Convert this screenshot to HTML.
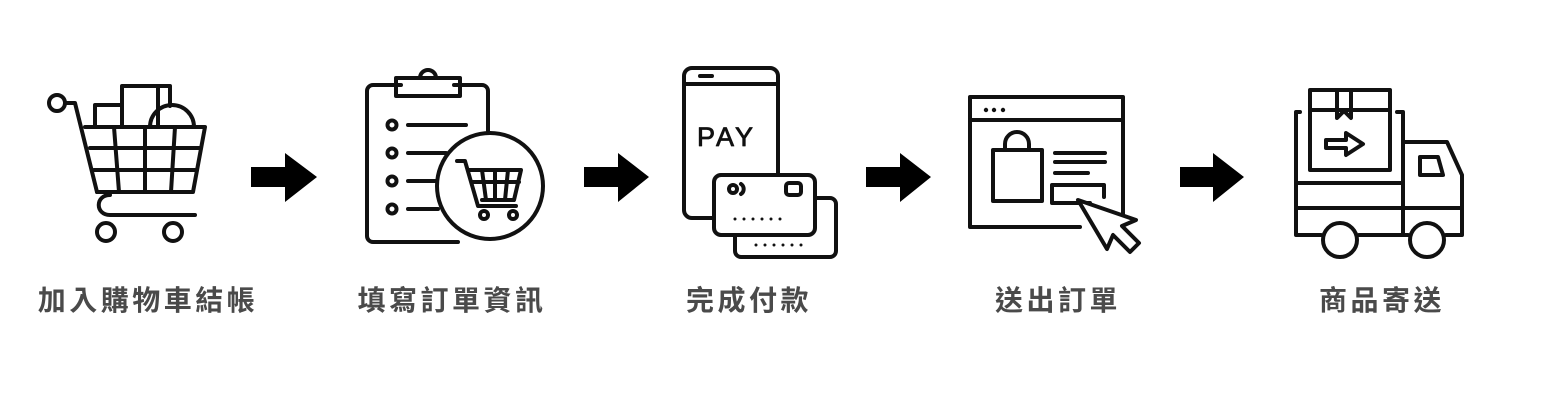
<!DOCTYPE html>
<html><head><meta charset="utf-8"><style>
html,body{margin:0;padding:0;background:#fff;width:1552px;height:406px;overflow:hidden}
svg{position:absolute;left:0;top:0}
.l{position:absolute;top:279px;font:bold 28px "Liberation Sans","Noto Sans CJK TC",sans-serif;color:#4a4a4a;letter-spacing:3.5px;white-space:nowrap;transform:translateX(-50%)}
</style></head><body>
<svg width="1552" height="406" viewBox="0 0 1552 406" fill="none" stroke="#111" stroke-width="4" stroke-linejoin="round" stroke-linecap="round">
<g fill="#000" stroke="none">
<path d="M251 167h34v-14l32 24-32 25v-15h-34z"/>
<path d="M584 167h34v-14l31 24-31 25v-15h-34z"/>
<path d="M866 167h34v-14l31 24-31 25v-15h-34z"/>
<path d="M1180 167h33v-14l31 24-31 25v-15h-33z"/>
</g>
<circle cx="57" cy="103" r="8"/>
<path d="M65 103h10l22 89"/>
<path d="M85 127h120l-12 65H97"/>
<path d="M90 148h111M94 170h103M114 127l5 65M145 127v65M175 127l-4 65"/>
<path d="M110 195c-15 0-15 20 0 20h85"/>
<circle cx="106" cy="232" r="9"/><circle cx="173" cy="232" r="9"/>
<path d="M95 127v-22h27M122 127V86h36v41M158 86h12v20M150 127a22 22 0 0 1 44 0"/>
<path d="M454 85h28a6 6 0 0 1 6 6v40M458 242H373a6 6 0 0 1-6-6V91a6 6 0 0 1 6-6h28"/>
<path d="M396 78h64v18h-64zM420 78a8 8 0 0 1 16 0"/>
<circle cx="392" cy="125" r="4.5"/><circle cx="392" cy="153" r="4.5"/><circle cx="392" cy="181" r="4.5"/><circle cx="392" cy="209" r="4.5"/>
<path d="M408 125h58M408 153h38M408 181h28M408 209h30"/>
<circle cx="490" cy="186" r="53"/>
<path d="M457 161h8l13 45h38M469 170h52l-7 30h-32M473 182h46M482 170l4 30M495 170v30M508 170l-3 30"/>
<circle cx="484" cy="215" r="4"/><circle cx="513" cy="215" r="4"/>
<path d="M714 218h-22a8 8 0 0 1-8-8V76a8 8 0 0 1 8-8h78a8 8 0 0 1 8 8v99"/>
<path d="M700 76h12M686 84h90"/>
<text x="697" y="146" font-family="Liberation Sans,sans-serif" font-size="27" fill="#111" stroke="#111" stroke-width="0.8" letter-spacing="3">PAY</text>
<path d="M815 198h15a6 6 0 0 1 6 6v47a6 6 0 0 1-6 6h-89a6 6 0 0 1-6-6v-16"/>
<rect x="714" y="175" width="101" height="60" rx="7"/>
<circle cx="733" cy="189" r="4"/><path d="M741 184a6 6 0 0 1 0 10"/>
<rect x="786" y="183" width="15" height="12" rx="3"/>
<g fill="#111" stroke="none"><circle cx="735" cy="219" r="1.5"/><circle cx="744" cy="219" r="1.5"/><circle cx="753" cy="219" r="1.5"/><circle cx="762" cy="219" r="1.5"/><circle cx="771" cy="219" r="1.5"/><circle cx="780" cy="219" r="1.5"/>
<circle cx="756" cy="245" r="1.5"/><circle cx="765" cy="245" r="1.5"/><circle cx="774" cy="245" r="1.5"/><circle cx="783" cy="245" r="1.5"/><circle cx="792" cy="245" r="1.5"/><circle cx="801" cy="245" r="1.5"/>
<circle cx="986" cy="110" r="2.2"/><circle cx="994" cy="110" r="2.2"/><circle cx="1003" cy="110" r="2.2"/></g>
<path d="M1080 227h-110V97h153v130"/>
<path d="M970 120h153"/>
<rect x="993" y="150" width="49" height="51"/>
<path d="M1005 150v-6a12 12 0 0 1 24 0v6"/>
<path d="M1055 153h50M1055 162h50M1055 173h33"/>
<path d="M1090 203h-38v-18h52v12"/>
<path d="M1078 200l58 20-14 6 17 17-9 9-17-17-6 14z" fill="#fff"/>
<path d="M1296 112v123h25M1359 235h49M1446 235h16v-60l-15-33h-44v93M1296 183h107M1296 208h166M1296 112h4M1397 112h6v30"/>
<rect x="1310" y="90" width="80" height="80"/>
<path d="M1310 110h80M1337 90v28l7-7 7 7V90"/>
<path d="M1326 140h20v-7l17 11-17 11v-7h-20z"/>
<path d="M1420 157h18l5 18h-23z"/>
<circle cx="1340" cy="240" r="17"/><circle cx="1427" cy="240" r="17"/>
</svg>
<div class="l" style="left:148px">加入購物車結帳</div>
<div class="l" style="left:452px">填寫訂單資訊</div>
<div class="l" style="left:749px">完成付款</div>
<div class="l" style="left:1058px">送出訂單</div>
<div class="l" style="left:1382px">商品寄送</div>
</body></html>
